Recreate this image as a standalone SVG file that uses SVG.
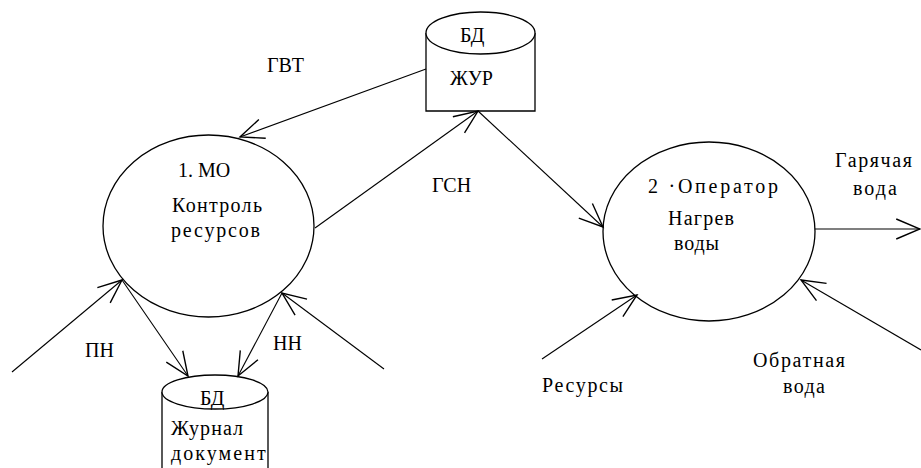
<svg xmlns="http://www.w3.org/2000/svg" width="921" height="468" viewBox="0 0 921 468">
<style>
.shape{fill:#fff;stroke:#000;stroke-width:1.3}
.ln{fill:none;stroke:#000;stroke-width:1.1}
.t{font-family:'Liberation Serif','Times New Roman',serif;font-size:20px;fill:#000}
</style>
<defs>
<marker id="arr" markerUnits="userSpaceOnUse" markerWidth="30" markerHeight="30" refX="0" refY="0" viewBox="-22 -12 24 24" orient="auto" overflow="visible">
<path d="M-19,-8 L0,0 L-19,8" fill="none" stroke="#000" stroke-width="1.1"/>
</marker>
<clipPath id="dbclip"><rect x="163" y="370" width="104" height="98"/></clipPath>
</defs>
<rect width="921" height="468" fill="#fff"/>

<g id="db-zhur">
<path class="shape" d="M426,33 L426,111 L535,111 L535,33"/>
<ellipse class="shape" cx="480.5" cy="33" rx="54.5" ry="21"/>
<text class="t" x="460" y="42">БД</text>
<text class="t" x="450" y="85">ЖУР</text>
</g>

<g id="process-1">
<ellipse class="shape" cx="208.5" cy="226" rx="105.5" ry="91"/>
<text class="t" x="178" y="177">1. МО</text>
<text class="t" x="172" y="212" textLength="90">Контроль</text>
<text class="t" x="171" y="237" textLength="89">ресурсов</text>
</g>

<g id="process-2">
<ellipse class="shape" cx="709" cy="231.5" rx="106" ry="89.5"/>
<text class="t" x="648" y="193" textLength="130">2 ·Оператор</text>
<text class="t" x="668" y="225" textLength="66">Нагрев</text>
<text class="t" x="674" y="250" textLength="45">воды</text>
</g>

<g id="db-journal">
<path class="shape" d="M162,392 L162,470 L268,470 L268,392"/>
<ellipse class="shape" cx="215" cy="392" rx="53" ry="17"/>
<text class="t" x="200" y="405">БД</text>
<text class="t" x="171" y="435" textLength="72">Журнал</text>
<g clip-path="url(#dbclip)"><text class="t" x="171" y="460" textLength="118">документов</text></g>
</g>

<g id="connectors">
<line class="ln" x1="426" y1="69" x2="240" y2="137" marker-end="url(#arr)"/>
<line class="ln" x1="315" y1="228" x2="478" y2="111" marker-end="url(#arr)"/>
<line class="ln" x1="478" y1="111" x2="603" y2="227" marker-end="url(#arr)"/>
<line class="ln" x1="815" y1="229" x2="920" y2="229" marker-end="url(#arr)"/>
<line class="ln" x1="542" y1="359" x2="637" y2="295" marker-end="url(#arr)"/>
<line class="ln" x1="921" y1="350" x2="801" y2="280" marker-end="url(#arr)"/>
<line class="ln" x1="12" y1="372" x2="122" y2="280" marker-end="url(#arr)"/>
<line class="ln" x1="122" y1="280" x2="188" y2="376" marker-end="url(#arr)"/>
<line class="ln" x1="384" y1="369" x2="282" y2="293" marker-end="url(#arr)"/>
<line class="ln" x1="282" y1="293" x2="238" y2="376" marker-end="url(#arr)"/>
</g>

<g id="labels">
<text class="t" x="267" y="72">ГВТ</text>
<text class="t" x="432" y="192">ГСН</text>
<text class="t" x="835" y="167" textLength="77">Гарячая</text>
<text class="t" x="853" y="195" textLength="44">вода</text>
<text class="t" x="542" y="392" textLength="81">Ресурсы</text>
<text class="t" x="753" y="367" textLength="92">Обратная</text>
<text class="t" x="783" y="393" textLength="42">вода</text>
<text class="t" x="85" y="357">ПН</text>
<text class="t" x="273" y="350">НН</text>
</g>
</svg>
